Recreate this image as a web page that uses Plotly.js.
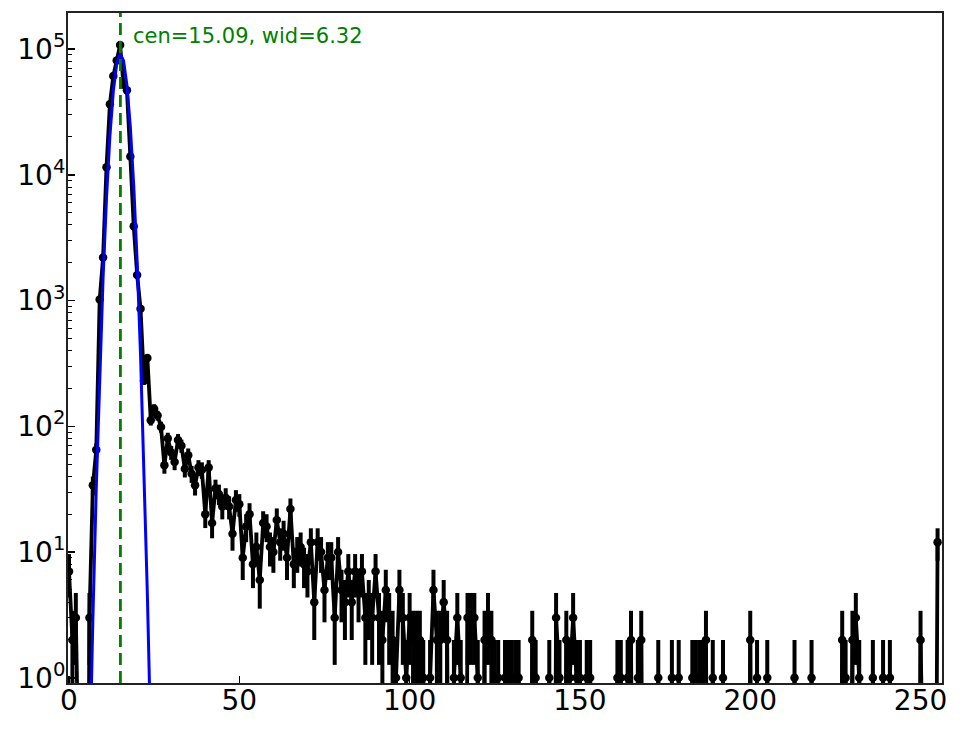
<!DOCTYPE html>
<html>
<head>
<meta charset="utf-8">
<script src="https://cdn.plot.ly/plotly-3.0.1.min.js"></script>
<style>
  html, body { margin: 0; padding: 0; background: #fff; }
  #grafico { width: 964px; height: 729px; }
</style>
</head>
<body>
<div id="grafico"></div>
<script>
// counts per bin (bins 0..255)
var cuentas = [
  7, 2, 3, 0, 0, 0, 3, 34, 65, 1020,
  2200, 11500, 36500, 61000, 81000, 108000, 52000, 47000, 14000, 3900,
  1600, 860, 230, 350, 112, 138, 122, 99, 49, 80,
  62, 52, 78, 70, 46, 59, 42, 34, 47, 45,
  20, 47, 17, 32, 29, 23, 27, 23, 14, 26,
  24, 9, 16, 20, 8, 11, 6, 17, 16, 11,
  10, 18, 12, 14, 9, 22, 8, 10, 11, 8,
  7, 12, 4, 12, 10, 5, 9, 9, 3, 10,
  5, 4, 7, 4, 7, 5, 7, 3, 4, 3,
  7, 3, 2, 5, 3, 2, 1, 5, 3, 1,
  3, 2, 2, 2, 1, 0, 1, 5, 2, 2,
  4, 2, 0, 1, 3, 1, 0, 3, 3, 3,
  1, 0, 2, 3, 2, 1, 1, 0, 1, 1,
  1, 1, 1, 0, 0, 0, 2, 1, 0, 0,
  0, 1, 0, 3, 1, 0, 2, 1, 3, 1,
  1, 0, 1, 1, 0, 0, 0, 0, 0, 0,
  0, 1, 1, 0, 1, 2, 0, 1, 2, 0,
  0, 0, 0, 1, 0, 0, 0, 1, 0, 1,
  0, 0, 0, 1, 1, 1, 1, 2, 0, 1,
  0, 0, 1, 0, 0, 0, 0, 0, 0, 0,
  2, 0, 1, 0, 0, 1, 0, 0, 0, 0,
  0, 0, 0, 1, 0, 0, 0, 0, 1, 0,
  0, 0, 0, 0, 0, 0, 0, 2, 1, 0,
  2, 3, 1, 0, 0, 0, 1, 0, 0, 1,
  0, 1, 0, 0, 0, 0, 0, 0, 0, 0,
  2, 0, 0, 0, 0, 12
];

// gaussian fit drawn in blue
var ajusteX = [5, 6, 7, 8, 9, 10, 11, 12, 13, 14, 15, 16, 17, 18, 19, 20, 21, 22, 23, 24, 25];
var ajusteY = [0.0093, 0.195, 2.92, 32.3, 260, 1526, 6520, 20300, 46100, 76200, 91900,
               80700, 51700, 24100, 8190, 2030, 366, 48.1, 4.62, 0.32, 0.016];

var cen = 15.09;
var wid = 6.32;

var ejeY = [1, 10, 100, 1000, 10000, 100000];
var ejeYtxt = ["10<sup>0</sup>", "10<sup>1</sup>", "10<sup>2</sup>", "10<sup>3</sup>", "10<sup>4</sup>", "10<sup>5</sup>"];
var ejeX = [0, 50, 100, 150, 200, 250];

var equis = [];
var ye = [];
var err = [];
for (let i = 0; i < cuentas.length; i++) {
  equis.push(i);
  // empty bins sit far under the axis so the line dives off the bottom
  ye.push(cuentas[i] > 0 ? cuentas[i] : 1e-4);
  err.push(Math.sqrt(cuentas[i]));
}

var trace1 = {
  x: equis,
  y: ye,
  type: 'scatter',
  mode: 'lines+markers',
  name: "datos",
  line: {color: 'black', width: 3.8},
  marker: {color: 'black', size: 8.5},
  error_y: {type: 'data', array: err, visible: true, color: 'black', thickness: 4, width: 0}
};

var trace2 = {
  x: ajusteX,
  y: ajusteY,
  type: 'scatter',
  mode: 'lines',
  name: "ajuste",
  line: {color: '#0000ff', width: 3}
};

var data = [trace1, trace2];

var fuente = {family: 'DejaVu Sans', size: 28, color: 'black'};

var layout = {
  width: 964,
  height: 729,
  margin: {l: 68, r: 22, t: 13, b: 46},
  paper_bgcolor: 'white',
  plot_bgcolor: 'white',
  showlegend: false,
  xaxis: {
    range: [-0.3, 256.3],
    tickvals: ejeX,
    ticks: 'inside',
    ticklen: 7,
    tickwidth: 1.5,
    tickcolor: 'black',
    ticklabelstandoff: -9,
    showgrid: false,
    zeroline: false,
    showline: true,
    linecolor: '#222',
    linewidth: 2,
    mirror: true,
    tickfont: fuente
  },
  yaxis: {
    type: 'log',
    range: [-0.041, 5.287],
    tickvals: ejeY,
    ticktext: ejeYtxt,
    ticks: 'inside',
    ticklen: 7,
    tickwidth: 1.5,
    tickcolor: 'black',
    ticklabelstandoff: -5,
    minor: {ticks: 'inside', ticklen: 4, tickwidth: 1, tickcolor: 'black', dtick: 'D1', showgrid: false},
    showgrid: false,
    zeroline: false,
    showline: true,
    linecolor: '#222',
    linewidth: 2,
    mirror: true,
    tickfont: fuente
  },
  shapes: [{
    type: 'line',
    xref: 'x', yref: 'paper',
    x0: cen, x1: cen, y0: 0, y1: 1,
    line: {color: '#008000', width: 2.8, dash: '12px,6px'}
  }],
  annotations: [{
    xref: 'x', yref: 'paper',
    x: cen + 3.2, y: 0.966,
    xanchor: 'left', yanchor: 'middle',
    showarrow: false,
    text: "cen=" + cen.toFixed(2) + ", wid=" + wid.toFixed(2),
    font: {family: 'DejaVu Sans', size: 21, color: '#008000'}
  }]
};

Plotly.newPlot("grafico", data, layout, {displayModeBar: false, staticPlot: true});
</script>
</body>
</html>
